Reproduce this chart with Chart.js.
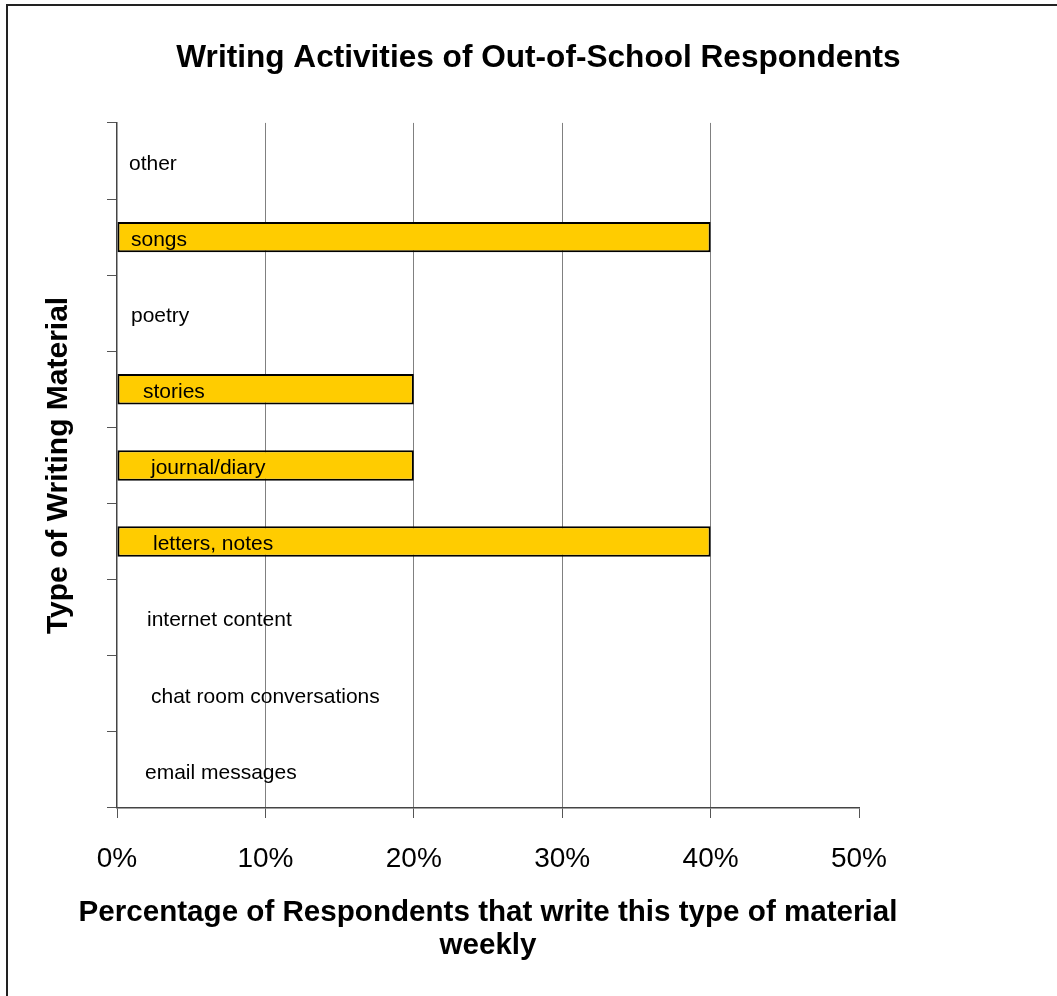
<!DOCTYPE html>
<html>
<head>
<meta charset="utf-8">
<script src="https://cdn.jsdelivr.net/npm/chart.js@4/dist/chart.umd.min.js"></script>
<style>
  html, body { margin: 0; padding: 0; background: #fff; overflow: hidden; }
  #wrap { position: relative; width: 1057px; height: 996px; }
  #frame {
    position: absolute; left: 6px; top: 4px; right: 0; bottom: 0;
    border-top: 2px solid #222; border-left: 2px solid #222;
    pointer-events: none;
  }
</style>
</head>
<body>
<div id="wrap">
  <canvas id="barChart"></canvas>
  <div id="frame"></div>
</div>
<script>
// 数据（自上而下）
const categories = [
  'other', 'songs', 'poetry', 'stories', 'journal/diary',
  'letters, notes', 'internet content', 'chat room conversations', 'email messages'
];
const percentWeekly = [0, 40, 0, 20, 20, 40, 0, 0, 0];
const xTicks = [0, 10, 20, 30, 40, 50];
const xTitleLines = ['Percentage of Respondents that write this type of material', 'weekly'];

// 标签相对 0% 的水平偏移（样式）
const labelNudge = [12, 14, 14, 26, 34, 36, 30, 34, 28];

const FONT = "'Liberation Sans', Arial, sans-serif";

/**
 * 在每个条形左侧绘制类别名称
 */
const categoryLabels = {
  id: 'categoryLabels',
  afterDatasetsDraw(chart) {
    const { ctx, scales: { x, y } } = chart;
    ctx.save();
    ctx.font = '21px ' + FONT;
    ctx.fillStyle = '#000';
    ctx.textAlign = 'left';
    ctx.textBaseline = 'middle';
    categories.forEach((name, i) => {
      ctx.fillText(name, x.getPixelForValue(0) + labelNudge[i], y.getPixelForValue(i) + 3);
    });
    ctx.restore();
  }
};

/**
 * X 轴标题（不压缩宽度，允许超出绘图区）
 */
const xAxisTitle = {
  id: 'xAxisTitle',
  afterDraw(chart) {
    const { ctx, chartArea, scales: { x } } = chart;
    ctx.save();
    ctx.font = 'bold 29.6px ' + FONT;
    ctx.fillStyle = '#000';
    ctx.textAlign = 'center';
    ctx.textBaseline = 'middle';
    const cx = (chartArea.left + chartArea.right) / 2;
    xTitleLines.forEach((line, i) => {
      ctx.fillText(line, cx, x.top + 105 + i * 33);
    });
    ctx.restore();
  }
};

const ctx = document.getElementById('barChart').getContext('2d');

new Chart(ctx, {
  type: 'bar',
  data: {
    labels: categories,
    datasets: [{
      data: percentWeekly,
      backgroundColor: '#FFCC00',
      borderColor: '#000',
      borderWidth: (c) => (c.raw > 0 ? 2 : 0),
      borderSkipped: false,
      barPercentage: 0.4,
      categoryPercentage: 1
    }]
  },
  options: {
    indexAxis: 'y',
    responsive: true,
    maintainAspectRatio: false,
    animation: false,
    layout: { padding: { left: 20, right: 0, top: 0, bottom: 0 } },
    plugins: {
      legend: { display: false },
      tooltip: { enabled: false },
      title: {
        display: true,
        text: 'Writing Activities of Out-of-School Respondents',
        color: '#000',
        font: { family: FONT, size: 31.6, weight: 'bold', lineHeight: 1.2 },
        padding: { top: 39, bottom: 46 }
      }
    },
    scales: {
      x: {
        type: 'linear',
        min: 0,
        max: 50,
        afterBuildTicks: (s) => { s.ticks = xTicks.map(v => ({ value: v })); },
        ticks: {
          callback: (v) => v + '%',
          color: '#000',
          padding: 24,
          maxRotation: 0,
          font: { family: FONT, size: 28 }
        },
        grid: {
          color: (c) => (c.tick && (c.tick.value === 0 || c.tick.value === 50) ? 'rgba(0,0,0,0)' : '#808080'),
          tickColor: '#555',
          tickLength: 10,
          lineWidth: 1
        },
        border: { display: true, color: '#444', width: 1.5 },
        title: { display: false },
        afterFit: (s) => { s.height = 188; }
      },
      y: {
        type: 'category',
        position: 'left',
        ticks: { display: false },
        grid: {
          offset: true,
          drawOnChartArea: false,
          drawTicks: true,
          tickLength: 10,
          tickColor: '#555'
        },
        border: { display: true, color: '#444', width: 1.5 },
        title: {
          display: true,
          text: 'Type of Writing Material',
          color: '#000',
          font: { family: FONT, size: 30, weight: 'bold', lineHeight: 1.15 },
          padding: { top: 21, bottom: 0 }
        },
        afterFit: (s) => { s.width = 97; }
      },
      // 右侧留白
      yR: {
        type: 'category',
        position: 'right',
        ticks: { display: false },
        grid: { display: false },
        border: { display: false },
        afterFit: (s) => { s.width = 198; }
      }
    }
  },
  plugins: [categoryLabels, xAxisTitle]
});
</script>
</body>
</html>
